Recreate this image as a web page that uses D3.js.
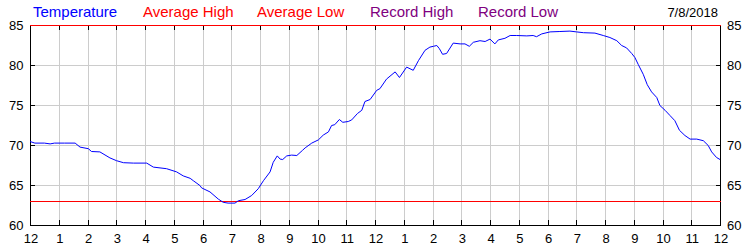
<!DOCTYPE html>
<html>
<head>
<meta charset="utf-8">
<script src="https://cdn.jsdelivr.net/npm/d3@7"></script>
<style>
  body { margin: 0; background: #fff; }
  svg text { font-family: "Liberation Sans", Arial, sans-serif; }
</style>
</head>
<body>
<svg id="chart" width="750" height="250"></svg>
<script>
// hours since midnight and temperature (F)
var hours = [0, 0.17, 0.5, 0.7, 0.85, 1.2, 1.57, 1.74, 2.03, 2.14, 2.43, 2.78, 3.01, 3.25, 3.6, 4.06,
  4.29, 4.75, 5.1, 5.33, 5.57, 5.68, 5.91, 5.97, 6.26, 6.55, 6.72, 6.89, 7.13, 7.25, 7.48, 7.71,
  7.94, 8.12, 8.35, 8.46, 8.6, 8.7, 8.79, 8.93, 9.1, 9.28, 9.48, 9.57, 9.8, 10.03, 10.2, 10.38,
  10.49, 10.6, 10.76, 10.88, 11.07, 11.19, 11.39, 11.54, 11.65, 11.83, 12.06, 12.17, 12.4, 12.7,
  12.85, 13.1, 13.33, 13.51, 13.74, 13.91, 14.03, 14.15, 14.24, 14.35, 14.49, 14.72, 14.96, 15.13,
  15.28, 15.42, 15.65, 15.83, 16.0, 16.17, 16.29, 16.52, 16.7, 16.93, 17.28, 17.5, 17.62, 17.8,
  18.09, 18.43, 18.78, 19.01, 19.25, 19.65, 19.94, 20.17, 20.41, 20.58, 20.75, 20.93, 21.04, 21.16,
  21.33, 21.47, 21.62, 21.8, 21.91, 22.09, 22.26, 22.43, 22.59, 22.78, 22.96, 23.19, 23.42, 23.59,
  23.71, 23.88, 24];
var temps = [70.5, 70.3, 70.3, 70.2, 70.3, 70.3, 70.3, 69.8, 69.6, 69.25, 69.2, 68.45, 68.1, 67.85, 67.8, 67.8,
  67.3, 67.1, 66.7, 66.2, 65.9, 65.6, 65.0, 64.7, 64.2, 63.3, 62.9, 62.8, 62.8, 63.1, 63.25, 63.75,
  64.6, 65.6, 66.7, 67.9, 68.7, 68.3, 68.25, 68.7, 68.8, 68.75, 69.4, 69.7, 70.3, 70.7, 71.3, 71.7,
  72.5, 72.6, 73.25, 72.9, 73.0, 73.2, 74.0, 74.4, 75.5, 75.75, 76.9, 77.1, 78.3, 79.2,
  78.5, 79.8, 79.4, 80.6, 81.9, 82.3, 82.4, 82.5, 82.1, 81.4, 81.5, 82.8, 82.7, 82.7,
  82.4, 82.9, 83.1, 83.0, 83.3, 82.7, 83.2, 83.4, 83.75, 83.75, 83.7, 83.75, 83.6, 83.95,
  84.2, 84.25, 84.3, 84.2, 84.1, 84.05, 83.75, 83.5, 83.1, 82.5, 82.2, 81.5, 81.0, 80.1,
  78.9, 77.6, 76.7, 76.0, 75.0, 74.4, 73.75, 73.1, 71.9, 71.25, 70.8, 70.8, 70.6, 70.0,
  69.2, 68.5, 68.25];

var avgHigh = 85;
var avgLow = 63;
var hourTicks = d3.range(0, 25);
var hourLabels = ["12","1","2","3","4","5","6","7","8","9","10","11",
                  "12","1","2","3","4","5","6","7","8","9","10","11","12"];
var tempTicks = [60, 65, 70, 75, 80, 85];
var legendNames = ["Temperature", "Average High", "Average Low", "Record High", "Record Low"];
var legendColors = ["#0000ff", "#ff0000", "#ff0000", "#800080", "#800080"];
var legendX = [33, 143, 257, 370, 478];
var dateLabel = "7/8/2018";

function drawChart() {
var svg = d3.select("#chart");
var pLeft = 30, pRight = 720, pTop = 25, pBottom = 225;

var x = d3.scaleLinear().domain([0, 24]).range([pLeft, pRight]);
var y = d3.scaleLinear().domain([60, 85]).range([pBottom, pTop]);
var px = v => Math.round(x(v)) + 0.5;
var py = v => Math.round(y(v)) + 0.5;

// grid
svg.append("g").selectAll("line")
    .data(hourTicks.slice(1, -1))
    .enter().append("line")
    .attr("x1", px).attr("x2", px)
    .attr("y1", pTop).attr("y2", pBottom)
    .style("stroke", "#cccccc");
svg.append("g").selectAll("line")
    .data(tempTicks.slice(1, -1))
    .enter().append("line")
    .attr("x1", pLeft).attr("x2", pRight)
    .attr("y1", py).attr("y2", py)
    .style("stroke", "#cccccc");

// ticks (inward)
var tk = svg.append("g").style("stroke", "black");
hourTicks.forEach(function(h) {
    tk.append("line").attr("x1", px(h)).attr("x2", px(h)).attr("y1", pTop).attr("y2", pTop + 5);
    tk.append("line").attr("x1", px(h)).attr("x2", px(h)).attr("y1", pBottom - 5).attr("y2", pBottom);
});
tempTicks.forEach(function(t) {
    tk.append("line").attr("x1", pLeft).attr("x2", pLeft + 5).attr("y1", py(t)).attr("y2", py(t));
    tk.append("line").attr("x1", pRight - 4).attr("x2", pRight + 1).attr("y1", py(t)).attr("y2", py(t));
});

// frame
svg.append("line").attr("x1", px(0)).attr("x2", px(0)).attr("y1", pTop).attr("y2", pBottom + 1).style("stroke", "black");
svg.append("line").attr("x1", px(24)).attr("x2", px(24)).attr("y1", pTop).attr("y2", pBottom + 1).style("stroke", "black");
svg.append("line").attr("x1", pLeft).attr("x2", pRight + 1).attr("y1", py(60)).attr("y2", py(60)).style("stroke", "black");

// average lines
[avgHigh, avgLow].forEach(function(t) {
    svg.append("line").attr("x1", pLeft).attr("x2", pRight + 1)
        .attr("y1", py(t)).attr("y2", py(t)).style("stroke", "#ff0000");
});

// temperature line
var line = d3.line().x(d => x(d[0])).y(d => y(d[1]) + 0.5);
svg.append("path")
    .datum(d3.zip(hours, temps))
    .attr("d", line)
    .style("fill", "none")
    .style("stroke", "#0000ff")
    .style("stroke-width", 1);

// axis labels
svg.append("g").selectAll("text")
    .data(hourTicks)
    .enter().append("text")
    .attr("x", d => x(d) + 1)
    .attr("y", 243)
    .attr("text-anchor", "middle")
    .style("font-size", "13px")
    .text((d, i) => hourLabels[i]);
svg.append("g").selectAll("text")
    .data(tempTicks)
    .enter().append("text")
    .attr("x", 23.5)
    .attr("y", d => y(d) + 5)
    .attr("text-anchor", "end")
    .style("font-size", "13px")
    .text(d => d);
svg.append("g").selectAll("text")
    .data(tempTicks)
    .enter().append("text")
    .attr("x", 727)
    .attr("y", d => y(d) + 5)
    .style("font-size", "13px")
    .text(d => d);

// legend
svg.append("g").selectAll("text")
    .data(legendNames)
    .enter().append("text")
    .attr("x", (d, i) => legendX[i])
    .attr("y", 17)
    .style("font-size", "15px")
    .style("fill", (d, i) => legendColors[i])
    .text(d => d);
svg.append("text")
    .attr("x", 718)
    .attr("y", 17)
    .attr("text-anchor", "end")
    .style("font-size", "13px")
    .text(dateLabel);
}
drawChart();
</script>
</body>
</html>
